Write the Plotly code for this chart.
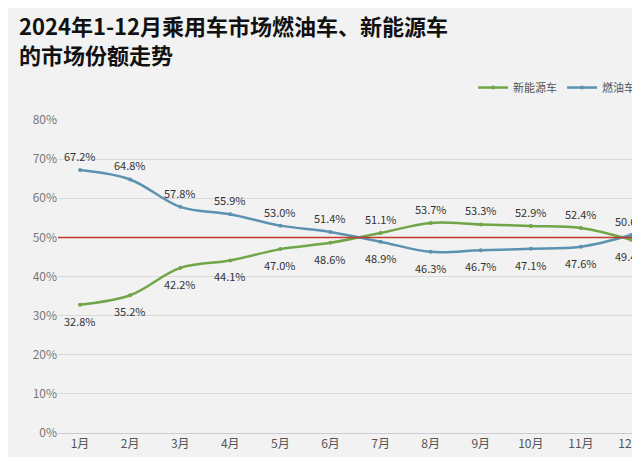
import plotly.graph_objects as go

months = ["1月", "2月", "3月", "4月", "5月", "6月", "7月", "8月", "9月", "10月", "11月", "12月"]
nev = [32.8, 35.2, 42.2, 44.1, 47.0, 48.6, 51.1, 53.7, 53.3, 52.9, 52.4, 49.4]
fuel = [67.2, 64.8, 57.8, 55.9, 53.0, 51.4, 48.9, 46.3, 46.7, 47.1, 47.6, 50.6]

green = "#70a548"
blue = "#5b92b0"

fig = go.Figure()
fig.add_trace(go.Scatter(x=months, y=nev, name="新能源车", mode="lines+markers",
                         line=dict(color=green, width=2.5, shape="spline"),
                         marker=dict(size=4, color=green)))
fig.add_trace(go.Scatter(x=months, y=fuel, name="燃油车", mode="lines+markers",
                         line=dict(color=blue, width=2.5, shape="spline"),
                         marker=dict(size=4, color=blue)))

# labels: higher value above, lower value below
for i, m in enumerate(months):
    for v, other in ((nev[i], fuel[i]), (fuel[i], nev[i])):
        up = v >= other
        fig.add_annotation(x=m, y=v, text=f"{v:.1f}%", showarrow=False,
                           yshift=14 if up else -16,
                           font=dict(size=11, color="#333333"))

fig.add_shape(type="line", xref="paper", x0=0, x1=1, y0=50, y1=50,
              line=dict(color="#c0392b", width=1.5))

fig.add_annotation(xref="paper", yref="paper", x=-0.07, y=1.36, xanchor="left", yanchor="top",
                   align="left", showarrow=False,
                   text="<b>2024年1-12月乘用车市场燃油车、新能源车<br>的市场份额走势</b>",
                   font=dict(size=22, color="#111111"))

fig.update_layout(
    width=640, height=457,
    paper_bgcolor="#f2f2f2", plot_bgcolor="#f2f2f2",
    margin=dict(l=50, r=2, t=112, b=32),
    font=dict(family="Noto Sans CJK SC", color="#555555"),
    legend=dict(orientation="h", x=0.99, xanchor="right", y=1.15, yanchor="top",
                font=dict(size=11, color="#555555"), bgcolor="rgba(0,0,0,0)"),
    xaxis=dict(showgrid=False, showline=True, linecolor="#cccccc", range=[-0.44, 11.3],
               tickfont=dict(size=12, color="#555555"), ticks=""),
    yaxis=dict(range=[0, 80], dtick=10, ticksuffix="%", gridcolor="#d9d9d9",
               zeroline=False, tickfont=dict(size=12, color="#777777")),
)

fig.write_html("out.html")
